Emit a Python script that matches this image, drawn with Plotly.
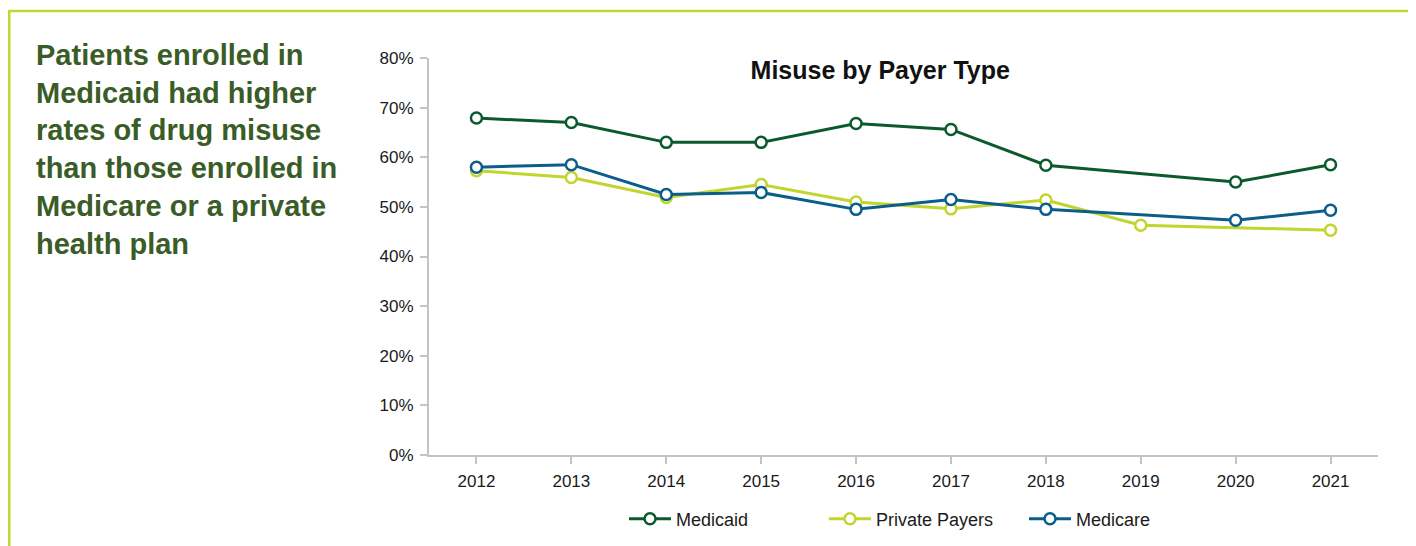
import plotly.graph_objects as go

years = [2012, 2013, 2014, 2015, 2016, 2017, 2018, 2019, 2020, 2021]
medicaid = [67.9, 67.0, 63.0, 63.0, 66.8, 65.6, 58.4, None, 55.0, 58.5]
private_payers = [57.3, 55.9, 51.9, 54.5, 51.0, 49.6, 51.4, 46.3, None, 45.3]
medicare = [58.0, 58.5, 52.5, 52.9, 49.5, 51.5, 49.5, None, 47.3, 49.3]
y_ticks = [0, 10, 20, 30, 40, 50, 60, 70, 80]
y_tick_labels = [f"{v}%" for v in y_ticks]

series = [
    ("Medicaid", medicaid, "#0b5a2c"),
    ("Private Payers", private_payers, "#c2d42e"),
    ("Medicare", medicare, "#0b5d8a"),
]

FONT = "Liberation Sans, Arial, Helvetica, sans-serif"

fig = go.Figure()
for name, vals, color in series:
    fig.add_trace(go.Scatter(
        x=years, y=vals, name=name, mode="lines+markers",
        connectgaps=True,
        line=dict(color=color, width=3),
        marker=dict(symbol="circle", size=11, color="white",
                    line=dict(color=color, width=2.5)),
    ))

# page has an 8px body margin; work in screen pixels and subtract it
OFF = 8
W, H = 1416 - OFF, 546 - OFF
# plot area on screen: x 429..1378.5 px, y 57.5..455.5 px
L, R, T, B = 429 - OFF, 1416 - 1378.5, 57.5 - OFF, 546 - 455.5
PW, PH = W - L - R, H - T - B

def px(xs):
    return (xs - OFF - L) / PW

def py(ys):
    return (H - B - (ys - OFF)) / PH

fig.add_shape(type="rect", xref="paper", yref="paper",
              x0=px(9), x1=px(1414), y0=py(600), y1=py(10.5),
              line=dict(color="#c3d52f", width=2.5), fillcolor="rgba(0,0,0,0)",
              layer="above")

fig.add_annotation(
    xref="paper", yref="paper", x=px(34), y=py(36), xanchor="left", yanchor="top",
    align="left", showarrow=False,
    text="<b>Patients enrolled in<br>Medicaid had higher<br>rates of drug misuse<br>"
         "than those enrolled in<br>Medicare or a private<br>health plan</b>",
    font=dict(family=FONT, size=29, color="#3a5c26"),
)

fig.update_layout(
    width=W, height=H,
    margin=dict(l=L, r=R, t=T, b=B, pad=0, autoexpand=False),
    paper_bgcolor="white", plot_bgcolor="white",
    font=dict(family=FONT, size=17, color="#1a1a1a"),
    title=dict(text="<b>Misuse by Payer Type</b>", xref="paper", x=px(880.5),
               xanchor="center", yref="container", y=1 - (70 - OFF) / H, yanchor="middle",
               font=dict(family=FONT, size=25, color="#111111")),
    showlegend=True,
    legend=dict(orientation="h", xref="container", x=(624 - OFF) / W, xanchor="left",
                yref="container", y=1 - (519 - OFF) / H, yanchor="middle",
                entrywidth=143, entrywidthmode="pixels", itemwidth=42,
                font=dict(family=FONT, size=18, color="#1a1a1a"),
                bgcolor="rgba(0,0,0,0)"),
)

fig.update_xaxes(
    range=[2011.5, 2021.5], tickmode="array", tickvals=years,
    ticktext=[str(y) for y in years],
    showgrid=False, zeroline=False, showline=True, linecolor="#c4c4c4", linewidth=2,
    ticks="outside", ticklen=7, tickwidth=2, tickcolor="#c4c4c4",
    ticklabelstandoff=3, tickfont=dict(family=FONT, size=17, color="#1a1a1a"),
)
fig.update_yaxes(
    range=[0, 80], tickmode="array", tickvals=y_ticks, ticktext=y_tick_labels,
    showgrid=False, zeroline=False, showline=True, linecolor="#c4c4c4", linewidth=2,
    ticks="outside", ticklen=7, tickwidth=2, tickcolor="#c4c4c4",
    ticklabelstandoff=3, tickfont=dict(family=FONT, size=17, color="#1a1a1a"),
)

fig.write_html("out.html")
